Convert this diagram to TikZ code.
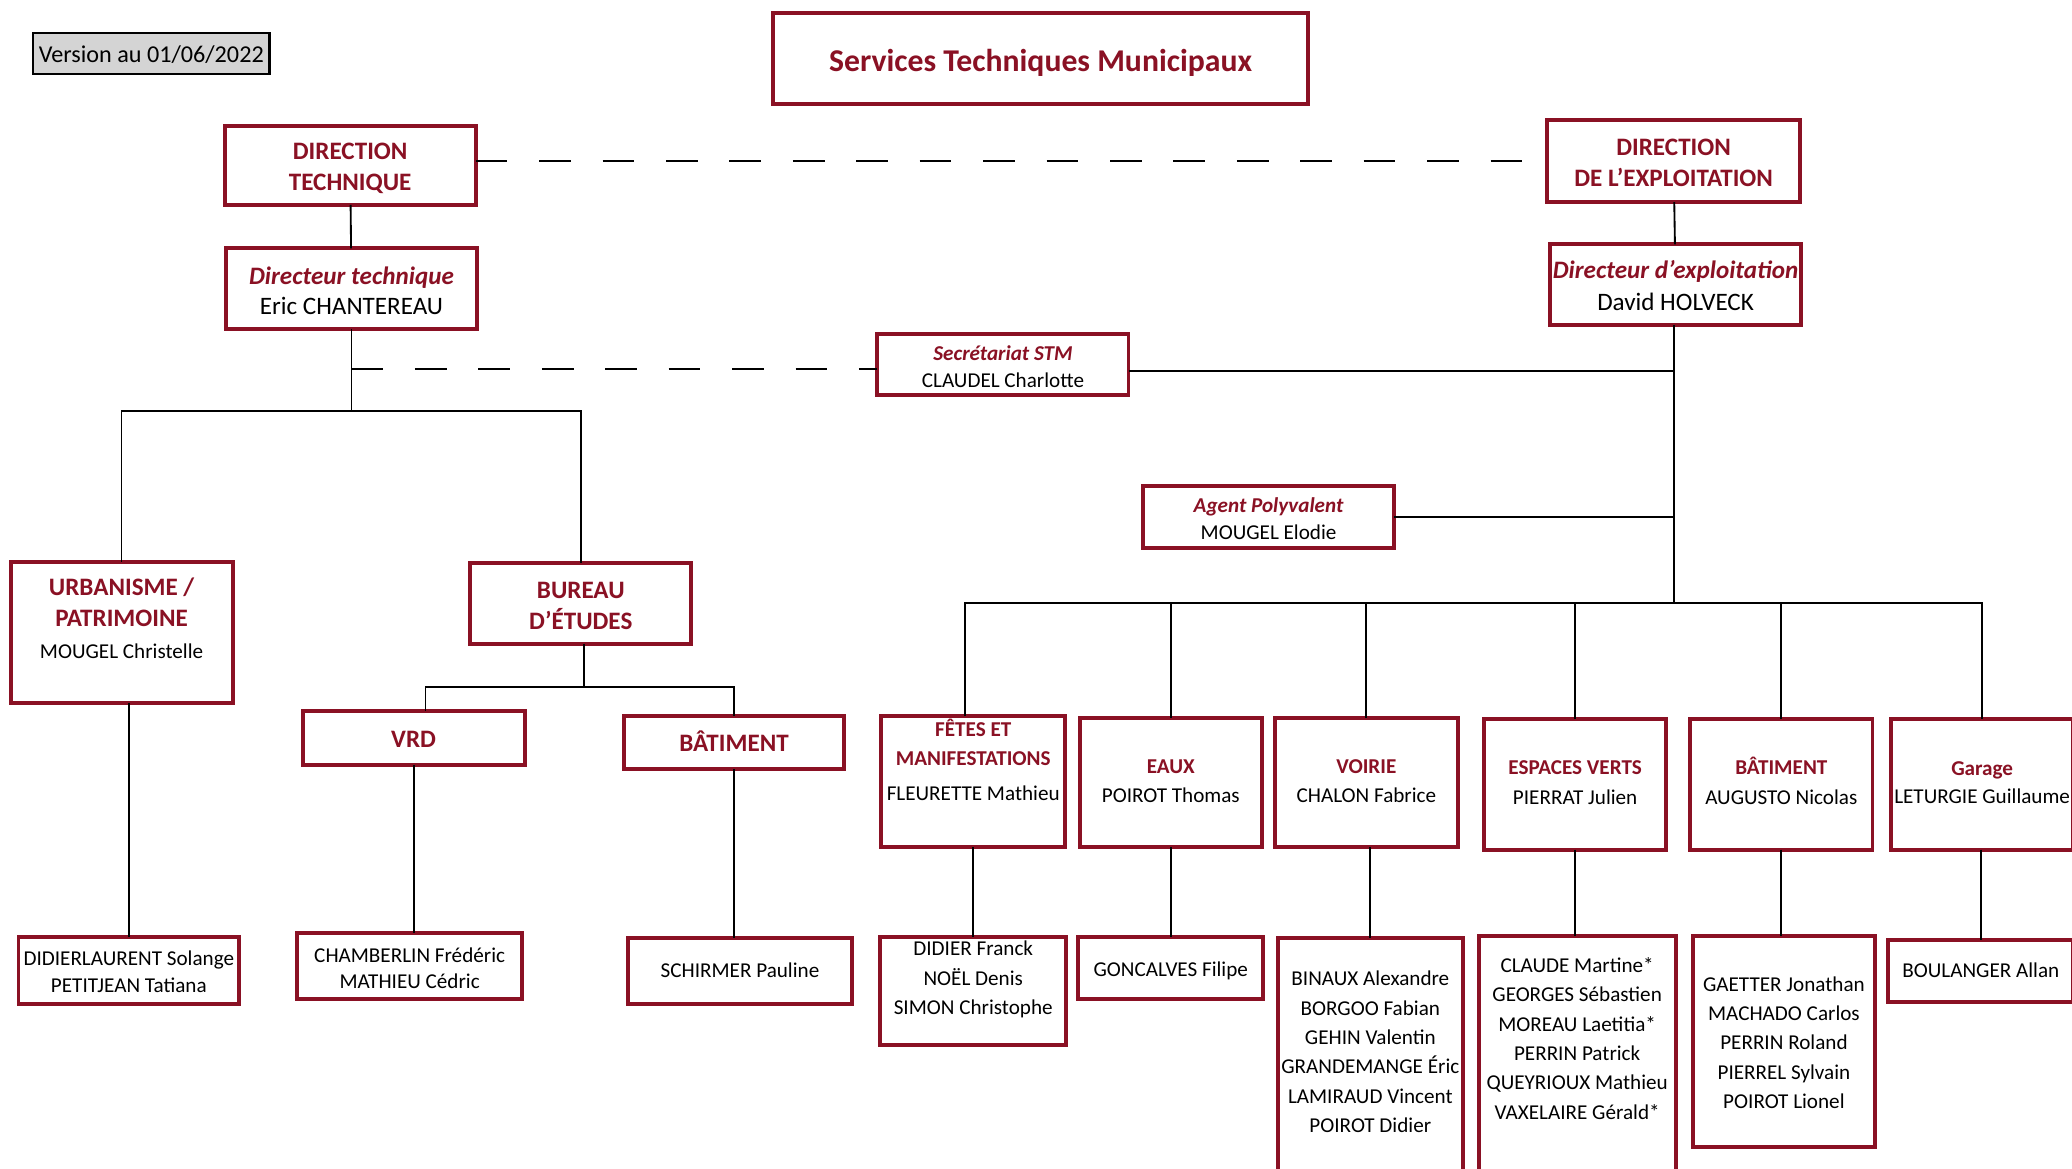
\documentclass[tikz,border=0pt]{standalone}
\usepackage{fontspec}
\setmainfont{Carlito}
\definecolor{wine}{RGB}{138,17,36}
\definecolor{vgray}{RGB}{212,212,212}
\begin{document}
\begin{tikzpicture}[x=1pt,y=-1pt,
  box/.style={draw=wine,line width=3pt,fill=white,inner sep=0pt,outer sep=0pt},
  conn/.style={line width=1.4pt,black},
  dconn/.style={conn,dash pattern=on 24pt off 24pt},
  H/.style={font=\fontsize{19}{23}\selectfont\bfseries,text=wine,anchor=base,inner sep=0pt},
  HI/.style={font=\fontsize{19}{23}\selectfont\bfseries\itshape,text=wine,anchor=base,inner sep=0pt},
  N/.style={font=\fontsize{19}{23}\selectfont,text=black,anchor=base,inner sep=0pt},
  h/.style={font=\fontsize{16}{20}\selectfont\bfseries,text=wine,anchor=base,inner sep=0pt},
  hi/.style={font=\fontsize{16}{20}\selectfont\bfseries\itshape,text=wine,anchor=base,inner sep=0pt},
  n/.style={font=\fontsize{16}{20}\selectfont,text=black,anchor=base,inner sep=0pt}]
\useasboundingbox (0,0) rectangle (1568,884.6);
\clip (0,0) rectangle (1568,884.6);
\fill[white] (0,0) rectangle (1568,884.6);
% ---------- boxes ----------
\node[draw=black,line width=2pt,fill=vgray,minimum width=179pt,minimum height=31pt,inner sep=0pt] (ver) at (114.5,40.5) {};
\node[box,minimum width=405pt,minimum height=69pt] (tit) at (787.5,44.5) {};
\node[box,minimum width=190pt,minimum height=60pt] (dt) at (265,125) {};
\node[box,minimum width=191pt,minimum height=62pt] (de) at (1266.5,122) {};
\node[box,minimum width=190pt,minimum height=61pt] (dirt) at (266,218.5) {};
\node[box,minimum width=190pt,minimum height=61pt] (dire) at (1268,215.5) {};
\node[box,minimum width=190pt,minimum height=46pt] (sec) at (759,276) {};
\node[box,minimum width=190pt,minimum height=47pt] (agt) at (960,391.5) {};
\node[box,minimum width=168pt,minimum height=107pt] (urb) at (92,478.5) {};
\node[box,minimum width=167pt,minimum height=61pt] (bur) at (439.5,456.5) {};
\node[box,minimum width=168pt,minimum height=41pt] (vrd) at (313,558.5) {};
\node[box,minimum width=167pt,minimum height=40pt] (bat) at (555.5,562) {};
\node[box,minimum width=167pt,minimum height=51pt] (did) at (97.5,734.5) {};
\node[box,minimum width=170pt,minimum height=50pt] (cha) at (310,731) {};
\node[box,minimum width=170pt,minimum height=50pt] (sch) at (560,735) {};
\node[box,minimum width=139pt,minimum height=99pt] (fet) at (736.5,591.5) {};
\node[box,minimum width=138pt,minimum height=98pt] (eau) at (886,592) {};
\node[box,minimum width=138pt,minimum height=98pt] (voi) at (1034,592) {};
\node[box,minimum width=138pt,minimum height=99pt] (esp) at (1192,593.5) {};
\node[box,minimum width=138pt,minimum height=99pt] (bab) at (1348,593.5) {};
\node[box,minimum width=138pt,minimum height=99pt] (gar) at (1500,593.5) {};
\node[box,minimum width=141pt,minimum height=82pt] (la) at (736.5,750) {};
\node[box,minimum width=140pt,minimum height=47pt] (lb) at (886,732.5) {};
\node[box,minimum width=140pt,minimum height=200pt] (lc) at (1037,810) {};
\node[box,minimum width=149pt,minimum height=200pt] (ld) at (1193.5,808) {};
\node[box,minimum width=138pt,minimum height=160pt] (le) at (1350,788) {};
\node[box,minimum width=140pt,minimum height=47pt] (lf) at (1499,734.5) {};
% ---------- connectors ----------
\coordinate (bar1) at (266,311);
\coordinate (bar2) at (442,520);
\coordinate (bar3) at (1267,456);
\draw[conn] (dt) -- (dirt);
\draw[conn] (de) -- (dire);
\draw[dconn] (dt.east |- de.west) -- (de.west);
\draw[conn] (dirt.south) -- (bar1);
\draw[conn] (urb.north) |- (bar1) -| (bur.north);
\draw[dconn] ([yshift=-3pt]dirt.south |- sec.west) -- ([yshift=-3pt]sec.west);
\draw[conn] (bur.south -| bar2) -- (bar2);
\draw[conn] ([xshift=9pt]vrd.north) |- (bar2) -| (bat.north);
\draw[conn] (urb.south -| did.north) -- (did.north);
\draw[conn] (vrd.south) -- (vrd.south |- cha.north);
\draw[conn] (bat.south) -- (bat.south |- sch.north);
\draw[conn] (dire.south -| bar3) -- (bar3);
\draw[conn] ([yshift=-5pt]sec.east) -- ([yshift=-5pt]sec.east -| bar3);
\draw[conn] (agt.east) -- (agt.east -| bar3);
\draw[conn] ([xshift=-6pt]fet.north) |- (bar3) -| (gar.north);
\foreach \b in {eau,voi,esp,bab} \draw[conn] (\b.north) -- (\b.north |- bar3);
\draw[conn] (fet.south) -- (fet.south |- la.north);
\draw[conn] (eau.south) -- (eau.south |- lb.north);
\draw[conn] (voi.south -| lc.north) -- (lc.north);
\draw[conn] (esp.south) -- (esp.south |- ld.north);
\draw[conn] (bab.south) -- (bab.south |- le.north);
\draw[conn] (gar.south -| lf.north) -- (lf.north);
% ---------- texts ----------
\node[anchor=base,inner sep=0pt,font=\fontsize{18.3}{22}\selectfont] (tver) at (114.5,47) {Version au 01/06/2022};
\node[anchor=base,inner sep=0pt,font=\fontsize{24}{28}\selectfont\bfseries,text=wine] (ttit) at (787.5,54) {Services Techniques Municipaux};
\node[H] (tdt1) at (265,121) {DIRECTION};
\node[H] (tdt2) at (265,144) {TECHNIQUE};
\node[H] (tde1) at (1266.5,118) {DIRECTION};
\node[H] (tde2) at (1266.5,141) {DE L’EXPLOITATION};
\node[HI] (tdirt1) at (266,215) {Directeur technique};
\node[N] (tdirt2) at (266,238) {Eric CHANTEREAU};
\node[HI] (tdire1) at (1268,211) {Directeur d’exploitation};
\node[N] (tdire2) at (1268,235) {David HOLVECK};
\node[hi] (tsec1) at (759,273) {Secrétariat STM};
\node[n] (tsec2) at (759,293) {CLAUDEL Charlotte};
\node[hi] (tagt1) at (960,388) {Agent Polyvalent};
\node[n] (tagt2) at (960,408) {MOUGEL Elodie};
\node[H] (turb1) at (92,451) {URBANISME /};
\node[H] (turb2) at (92,474) {PATRIMOINE};
\node[n] (turb3) at (92,498) {MOUGEL Christelle};
\node[H] (tbur1) at (439.5,453) {BUREAU};
\node[H] (tbur2) at (439.5,476) {D’ÉTUDES};
\node[H] (tvrd) at (313,566) {VRD};
\node[H] (tbat) at (555.5,569) {BÂTIMENT};
\node[n] (tdid1) at (97.5,731) {DIDIERLAURENT Solange};
\node[n] (tdid2) at (97.5,751) {PETITJEAN Tatiana};
\node[n] (tcha1) at (310,728) {CHAMBERLIN Frédéric};
\node[n] (tcha2) at (310,748) {MATHIEU Cédric};
\node[n] (tsch) at (560,740) {SCHIRMER Pauline};
\node[h] (tfet1) at (736.5,557) {FÊTES ET};
\node[h] (tfet2) at (736.5,579) {MANIFESTATIONS};
\node[n] (tfet3) at (736.5,606) {FLEURETTE Mathieu};
\node[h] (teau1) at (886,585) {EAUX};
\node[n] (teau2) at (886,607) {POIROT Thomas};
\node[h] (tvoi1) at (1034,585) {VOIRIE};
\node[n] (tvoi2) at (1034,607) {CHALON Fabrice};
\node[h] (tesp1) at (1192,586) {ESPACES VERTS};
\node[n] (tesp2) at (1192,609) {PIERRAT Julien};
\node[h] (tbab1) at (1348,586) {BÂTIMENT};
\node[n] (tbab2) at (1348,609) {AUGUSTO Nicolas};
\node[h] (tgar1) at (1500,587) {Garage};
\node[n] (tgar2) at (1500,608) {LETURGIE Guillaume};
\foreach \t [count=\i from 0] in {DIDIER Franck,NOËL Denis,SIMON Christophe}
  \node[n] (tla\i) at (736.5,{723+22.5*\i}) {\t};
\node[n] (tlb) at (886,739) {GONCALVES Filipe};
\foreach \t [count=\i from 0] in {BINAUX Alexandre,BORGOO Fabian,GEHIN Valentin,GRANDEMANGE Éric,LAMIRAUD Vincent,POIROT Didier}
  \node[n] (tlc\i) at (1037,{746+22.2*\i}) {\t};
\foreach \t [count=\i from 0] in {CLAUDE Martine*,GEORGES Sébastien,MOREAU Laetitia*,PERRIN Patrick,QUEYRIOUX Mathieu,VAXELAIRE Gérald*}
  \node[n] (tld\i) at (1193.5,{736+22.2*\i}) {\t};
\foreach \t [count=\i from 0] in {GAETTER Jonathan,MACHADO Carlos,PERRIN Roland,PIERREL Sylvain,POIROT Lionel}
  \node[n] (tle\i) at (1350,{750+22.25*\i}) {\t};
\node[n] (tlf) at (1499,740) {BOULANGER Allan};
\end{tikzpicture}
\end{document}
